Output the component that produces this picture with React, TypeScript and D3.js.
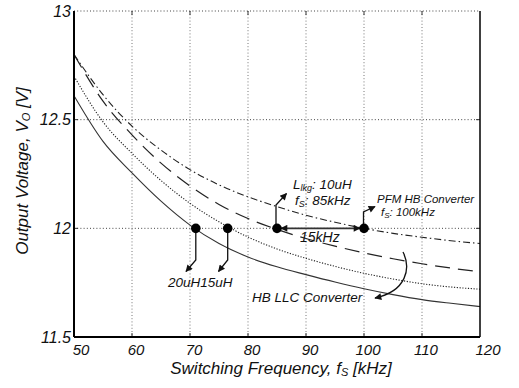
import React from "react";
import * as d3 from "d3";

// Switching frequency samples (kHz)
const freq = [50, 55, 60, 65, 70, 75, 80, 85, 90, 95, 100, 105, 110, 115, 120];

// Output voltage (V) for each design
const vPfm = [12.8, 12.615, 12.47, 12.36, 12.27, 12.2, 12.145, 12.1, 12.06, 12.028, 12.0, 11.977, 11.959, 11.943, 11.93];
const vLkg10 = [12.8, 12.585, 12.43, 12.3, 12.195, 12.11, 12.045, 11.995, 11.953, 11.918, 11.887, 11.86, 11.837, 11.817, 11.8];
const vLkg15 = [12.7, 12.49, 12.345, 12.22, 12.115, 12.03, 11.96, 11.905, 11.862, 11.825, 11.793, 11.767, 11.745, 11.73, 11.72];
const vLkg20 = [12.61, 12.4, 12.255, 12.125, 12.015, 11.93, 11.868, 11.823, 11.787, 11.753, 11.722, 11.695, 11.672, 11.655, 11.64];

// Operating points where each curve reaches 12 V
const opFreq = [71, 76.5, 85, 100];
const opVolt = 12;

const xTicks = [50, 60, 70, 80, 90, 100, 110, 120];
const yTicks = [11.5, 12, 12.5, 13];

const W = 519;
const H = 388;
const M = { left: 74, right: 39, top: 11, bottom: 51 };

const FONT = "'Liberation Sans', Arial, Helvetica, sans-serif";

export default function App() {
  const x = d3.scaleLinear().domain([50, 120]).range([M.left, W - M.right]);
  const y = d3.scaleLinear().domain([11.5, 13]).range([H - M.bottom, M.top]);

  const line = d3
    .line<number>()
    .x((_, i) => x(freq[i]))
    .y((d) => y(d))
    .curve(d3.curveMonotoneX);

  const series = [
    { v: vLkg20, dash: undefined, stroke: "#333", w: 1.1 },
    { v: vLkg15, dash: "1.2,1.6", stroke: "#222", w: 1.1 },
    { v: vLkg10, dash: "15,8", stroke: "#222", w: 1.2 },
    { v: vPfm, dash: "7,3,1.5,3", stroke: "#222", w: 1.1 },
  ];

  const x0 = x(50);
  const x1 = x(120);
  const yTop = y(13);
  const yBot = y(11.5);
  const y12 = y(opVolt);

  const [p20, p15, p10, pPfm] = opFreq.map((f) => x(f));

  const it: React.CSSProperties = { fontStyle: "italic" };

  return (
    <svg
      width={W}
      height={H}
      style={{ position: "absolute", left: 0, top: 0, background: "#fff" }}
      fontFamily={FONT}
    >
      <defs>
        <marker id="ah" viewBox="0 0 10 10" refX="9" refY="5" markerWidth="9" markerHeight="7" orient="auto-start-reverse" markerUnits="userSpaceOnUse">
          <path d="M0,0 L10,5 L0,10 z" fill="#111" />
        </marker>
        <clipPath id="plot">
          <rect x={x0} y={yTop} width={x1 - x0} height={yBot - yTop} />
        </clipPath>
      </defs>

      <rect x={0} y={0} width={W} height={H} fill="#fff" />

      {/* grid */}
      {xTicks.slice(1, -1).map((t) => (
        <line key={"gx" + t} x1={x(t)} x2={x(t)} y1={yTop} y2={yBot} stroke="#777" strokeWidth={1} strokeDasharray="1,2.2" />
      ))}
      {yTicks.slice(1).map((t) => (
        <line key={"gy" + t} x1={x0} x2={x1} y1={y(t)} y2={y(t)} stroke="#444" strokeWidth={1} strokeDasharray="1,2.2" />
      ))}

      {/* curves */}
      <g clipPath="url(#plot)">
        {series.map((s, i) => (
          <path key={i} d={line(s.v) || ""} fill="none" stroke={s.stroke} strokeWidth={s.w} strokeDasharray={s.dash} />
        ))}
      </g>

      {/* ticks */}
      {xTicks.slice(1, -1).map((t) => (
        <g key={"tx" + t} stroke="#333" strokeWidth={1}>
          <line x1={x(t)} x2={x(t)} y1={yBot} y2={yBot - 4} />
          <line x1={x(t)} x2={x(t)} y1={yTop} y2={yTop + 4} />
        </g>
      ))}
      {yTicks.slice(1, -1).map((t) => (
        <g key={"ty" + t} stroke="#333" strokeWidth={1}>
          <line x1={x0} x2={x0 + 4} y1={y(t)} y2={y(t)} />
          <line x1={x1} x2={x1 - 4} y1={y(t)} y2={y(t)} />
        </g>
      ))}

      {/* axes box */}
      <line x1={x0} x2={x0} y1={yTop} y2={yBot} stroke="#000" strokeWidth={2} />
      <line x1={x0} x2={x1} y1={yBot} y2={yBot} stroke="#000" strokeWidth={2} />
      <line x1={x1} x2={x1} y1={yTop} y2={yBot} stroke="#000" strokeWidth={1.5} />

      {/* tick labels */}
      {xTicks.map((t) => (
        <text key={"lx" + t} x={x(t) + (t === 50 ? 7 : t === 120 ? 8 : 4)} y={355} textAnchor="middle" fontSize={15} style={it} fill="#111">
          {t}
        </text>
      ))}
      {yTicks.map((t) => (
        <text key={"ly" + t} x={71} y={Math.max(y(t), 6) + 5.5} textAnchor="end" fontSize={16} style={it} fill="#111">
          {t}
        </text>
      ))}

      {/* axis titles */}
      <text x={281} y={374} textAnchor="middle" fontSize={17} style={it} fill="#111">
        Switching Frequency, f<tspan fontSize={11} dy={2}>S</tspan>
        <tspan dy={-2}> [kHz]</tspan>
      </text>
      <text transform="translate(28,171) rotate(-90)" textAnchor="middle" fontSize={17} style={it} fill="#111">
        Output Voltage, V<tspan fontSize={11} dy={2}>O</tspan>
        <tspan dy={-2}> [V]</tspan>
      </text>

      {/* annotation arrows */}
      <g fill="none" stroke="#111" strokeWidth={1.3}>
        <path d={`M${p20},${y12} V260 L186,271.5`} markerEnd="url(#ah)" />
        <path d={`M${p15},${y12} V260 L218.5,271.5`} markerEnd="url(#ah)" />
        <path d={`M${p10 - 1},${y12} V205 L286.5,193.5`} markerEnd="url(#ah)" />
        <path d={`M${pPfm - 0.5},${y12} V212 L375,206.5`} markerEnd="url(#ah)" />
        <path d={`M${p10 + 4},${y12} H${pPfm - 4}`} markerStart="url(#ah)" markerEnd="url(#ah)" stroke="#333" strokeWidth={1.6} />
        <path d="M403,252 C411,268 407,291 375,298" markerEnd="url(#ah)" />
      </g>

      {/* operating points */}
      {opFreq.map((f) => (
        <circle key={"op" + f} cx={x(f)} cy={y(opVolt)} r={4.8} fill="#000" />
      ))}

      {/* annotation text */}
      <g style={it} fill="#111">
        <text x={168} y={287} fontSize={13.5}>20uH15uH</text>
        <text x={293} y={189} fontSize={13.5}>
          L<tspan fontSize={9} dy={2}>lkg</tspan>
          <tspan dy={-2}>: 10uH</tspan>
        </text>
        <text x={295} y={205} fontSize={13.5}>
          f<tspan fontSize={9} dy={2}>S</tspan>
          <tspan dy={-2}>: 85kHz</tspan>
        </text>
        <text x={300} y={242} fontSize={14}>15kHz</text>
        <text x={377} y={203} fontSize={11.5}>PFM HB Converter</text>
        <text x={381} y={216} fontSize={11.5}>
          f<tspan fontSize={8} dy={1.5}>S</tspan>
          <tspan dy={-1.5}>: 100kHz</tspan>
        </text>
        <text x={252} y={302} fontSize={13.5}>HB LLC Converter</text>
      </g>
    </svg>
  );
}
